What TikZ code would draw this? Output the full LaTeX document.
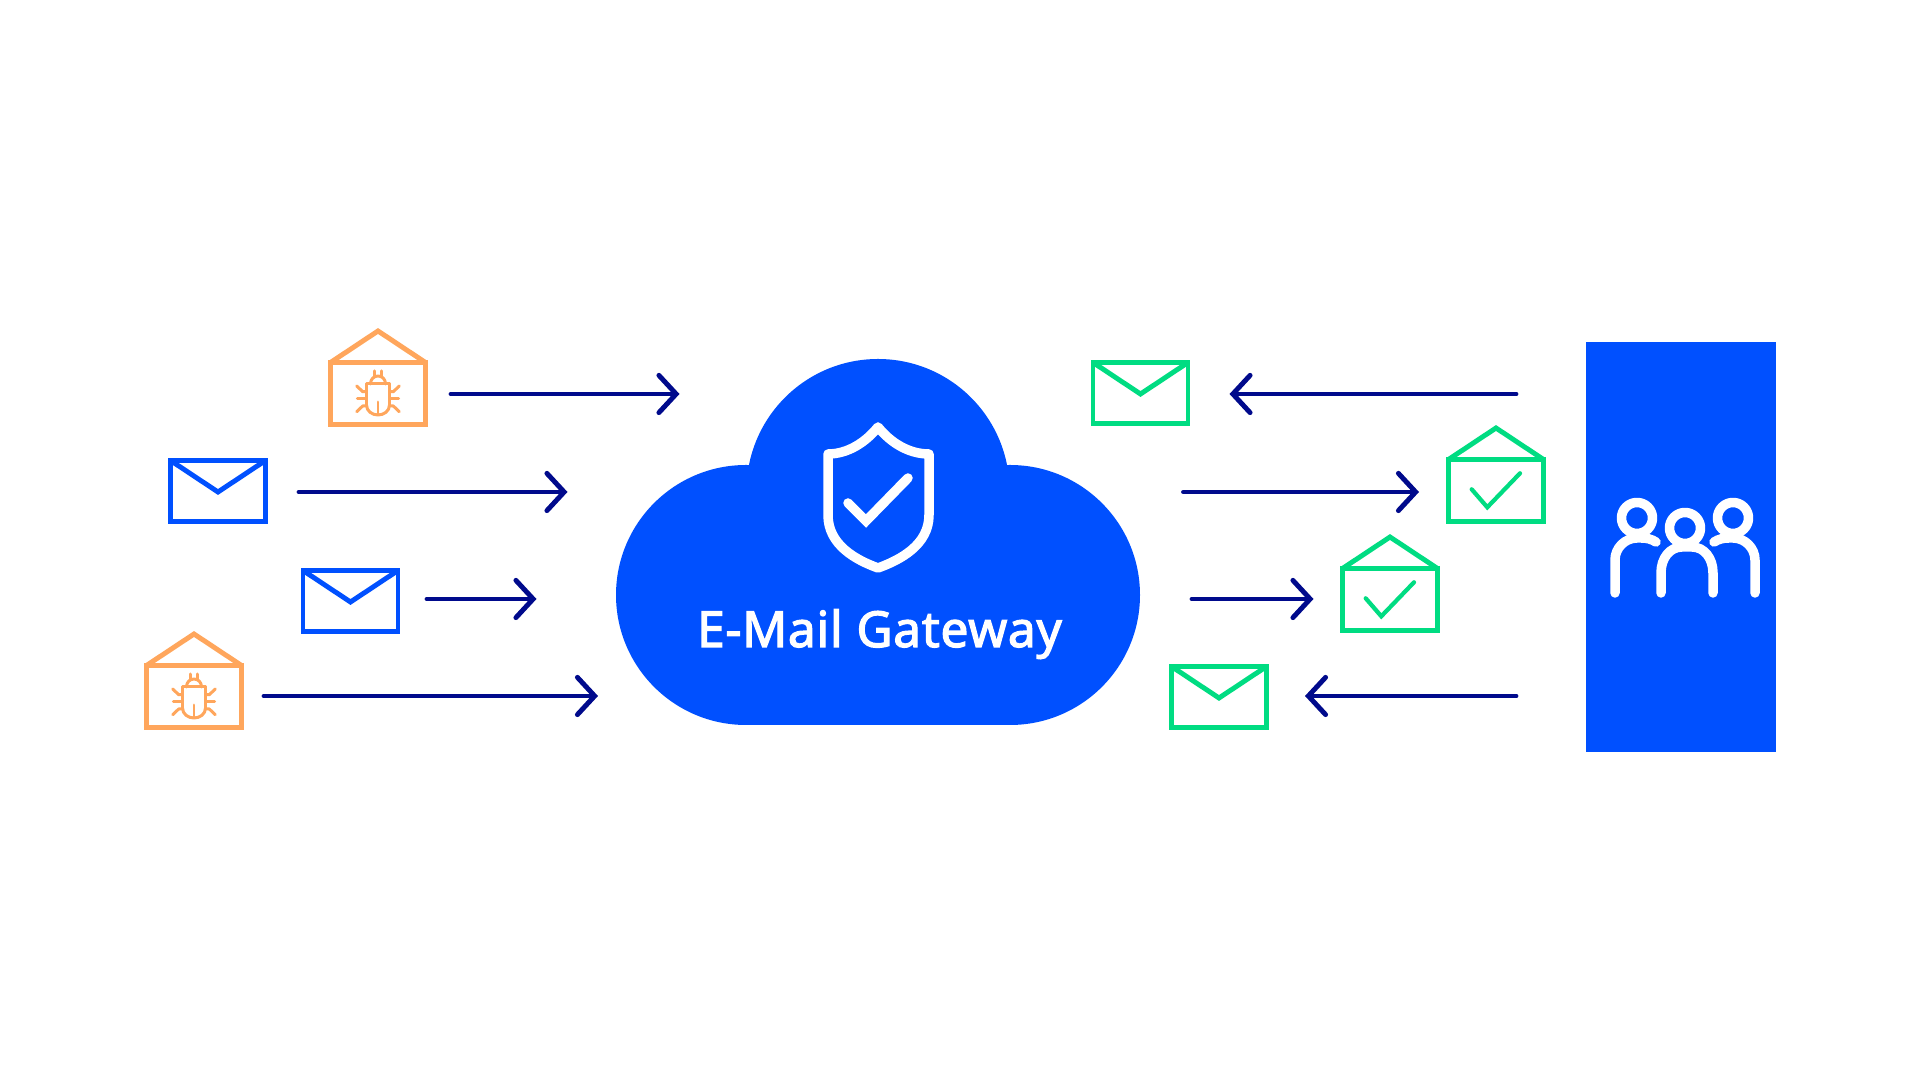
\documentclass[tikz,border=0pt]{standalone}
\usepackage{fontspec}
\newfontfamily\gwfont{Noto Sans}[FakeBold=2.5,LetterSpace=1.5]
\usetikzlibrary{arrows.meta}
\definecolor{brandblue}{HTML}{0050FF}
\definecolor{mailorange}{HTML}{FFA65C}
\definecolor{mailgreen}{HTML}{00DC82}
\definecolor{flownavy}{HTML}{000A8C}
\tikzset{
  x=0.01cm,y=-0.01cm,
  flow/.style={draw=flownavy,line width=1.4pt,line cap=round,line join=miter,
    -{Straight Barb[length=4.9pt,width=10.6pt,line cap=round,line join=miter]}},
  envline/.style={line width=1.4pt,line join=miter},
  iconline/.style={draw=white,line width=2.7pt,line cap=round,line join=round},
  envbox/.style={inner sep=0pt,minimum width=1cm,minimum height=0.66cm},
  lbl/.style={text=white,inner sep=0pt,anchor=base}
}
\newcommand{\envclosed}[4]{% name, x, y (centre), colour
  \node[envbox] (#1) at (#2,#3) {};
  \begin{scope}[shift={(#2,#3)}]
    \draw[envline,draw=#4] (-47.5,-30.5) rectangle (47.5,30.5);
    \draw[envline,draw=#4] (-47.5,-30.5) -- (0,1) -- (47.5,-30.5);
  \end{scope}}
\newcommand{\envopenshape}[4]{% name, x, y (bottom), colour
  \node[envbox] (#1) at (#2,#3-33) {};
  \begin{scope}[shift={(#2,#3)}]
    \draw[envline,draw=#4] (-47.5,-64.5) rectangle (47.5,-2.5);
    \draw[envline,draw=#4] (-47.5,-64.5) -- (0,-96) -- (47.5,-64.5);
  \end{scope}}
\newcommand{\envcheck}[3]{%
  \envopenshape{#1}{#2}{#3}{mailgreen}
  \begin{scope}[shift={(#2,#3)}]
    \draw[draw=mailgreen,line width=1.2pt,line cap=round,line join=miter] (-24.3,-34.7) -- (-8.7,-16.7) -- (24,-50.7);
  \end{scope}}
\newcommand{\envbug}[3]{%
  \envopenshape{#1}{#2}{#3}{mailorange}
  \begin{scope}[shift={(#2,#3)},draw=mailorange,line width=0.85pt,line cap=round,line join=round]
    \draw (-11.5,-43) -- (11.5,-43);
    \draw (-11.5,-43) -- (-11.5,-22) .. controls (-11.5,-16) and (-6,-12) .. (0,-12) .. controls (6,-12) and (11.5,-16) .. (11.5,-22) -- (11.5,-43);
    \draw (-7.5,-43) .. controls (-7.5,-48) and (-4,-51) .. (0,-51) .. controls (4,-51) and (7.5,-48) .. (7.5,-43);
    \draw (-3.7,-50.5) -- (-3.7,-56);
    \draw (3.7,-50.5) -- (3.7,-56);
    \draw (0,-25) -- (0,-13);
    \draw (-21.3,-41) -- (-15.3,-35.3) -- (-11.5,-35.3);
    \draw (21.3,-41) -- (15.3,-35.3) -- (11.5,-35.3);
    \draw (-20.7,-28) -- (-11.5,-28);
    \draw (20.7,-28) -- (11.5,-28);
    \draw (-21.3,-15.3) -- (-15.3,-21) -- (-11.5,-21);
    \draw (21.3,-15.3) -- (15.3,-21) -- (11.5,-21);
  \end{scope}}
\begin{document}
\begin{tikzpicture}
\useasboundingbox (0,0) rectangle (1920,1080);
\fill[white] (0,0) rectangle (1920,1080);

% cloud
\fill[brandblue] (746,595) circle[radius=130];
\fill[brandblue] (1010,595) circle[radius=130];
\fill[brandblue] (878,490.5) circle[radius=131.5];
\fill[brandblue] (746,465) rectangle (1010,725);
\node[lbl] (gw) at (879.5,647) {\gwfont\fontsize{14.1pt}{17pt}\selectfont E-Mail Gateway};

% shield
\draw[iconline] (828,454) .. controls (848,454) and (866,442) .. (878,427)
  .. controls (890,442) and (908,454) .. (929,454) -- (929,515)
  .. controls (929,545) and (900,560) .. (878,568)
  .. controls (856,560) and (828,545) .. (828,515) -- cycle;
\draw[iconline,line join=miter] (848,503) -- (866,521) -- (908,478);

% users panel
\fill[brandblue] (1586,342) rectangle (1776,752);
\node[inner sep=0pt,minimum width=1.9cm,minimum height=4.1cm] (users) at (1681,547) {};
\draw[iconline] (1637,518) circle[radius=15.5];
\draw[iconline] (1685,528) circle[radius=15.5];
\draw[iconline] (1733,518) circle[radius=15.5];
\draw[iconline] (1661,593) -- (1661,573) .. controls (1661,558) and (1670,547) .. (1682,547)
  -- (1692,547) .. controls (1704,547) and (1713,558) .. (1713,573) -- (1713,593);
\draw[iconline] (1615,593) -- (1615,560) .. controls (1615,548) and (1625,538) .. (1637,538)
  -- (1641,538) .. controls (1647,538) and (1651,539) .. (1656,542);
\draw[iconline] (1755,593) -- (1755,560) .. controls (1755,548) and (1745,538) .. (1733,538)
  -- (1729,538) .. controls (1723,538) and (1719,539) .. (1714,542);

% envelopes
\envbug{bugA}{378}{427}
\envbug{bugB}{194}{730}
\envclosed{blueA}{218}{491}{brandblue}
\envclosed{blueB}{350.5}{601}{brandblue}
\envclosed{greenA}{1140.5}{393}{mailgreen}
\envclosed{greenB}{1219}{697}{mailgreen}
\envcheck{checkA}{1496}{524}
\envcheck{checkB}{1390}{633}

% connectors
\coordinate (a1s) at (451,394); \coordinate (a1e) at (679.5,394);
\coordinate (a2s) at (299,492); \coordinate (a2e) at (567.5,492);
\coordinate (a3s) at (427,599); \coordinate (a3e) at (536.5,599);
\coordinate (a4s) at (264,696); \coordinate (a4e) at (598,696);
\coordinate (a5s) at (1516,394); \coordinate (a5e) at (1229.5,394);
\coordinate (a6s) at (1183.5,492); \coordinate (a6e) at (1419,492);
\coordinate (a7s) at (1192,599); \coordinate (a7e) at (1313.5,599);
\coordinate (a8s) at (1516,696); \coordinate (a8e) at (1305,696);
\draw[flow] (a1s) -- (a1e);
\draw[flow] (a2s) -- (a2e);
\draw[flow] (a3s) -- (a3e);
\draw[flow] (a4s) -- (a4e);
\draw[flow] (a5s) -- (a5e);
\draw[flow] (a6s) -- (a6e);
\draw[flow] (a7s) -- (a7e);
\draw[flow] (a8s) -- (a8e);
\end{tikzpicture}
\end{document}
